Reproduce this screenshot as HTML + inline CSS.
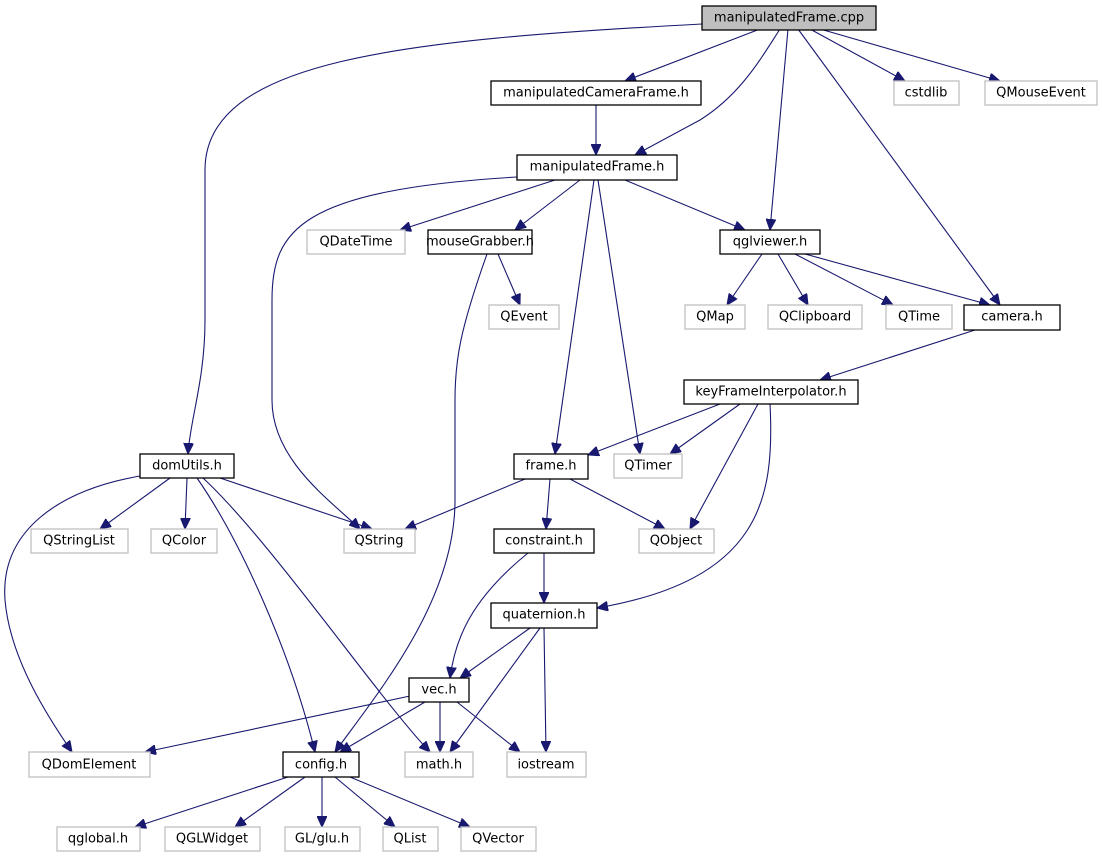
<!DOCTYPE html>
<html><head><meta charset="utf-8"><style>
html,body{margin:0;padding:0;background:#fff;}
svg{display:block;}
text{font-family:"DejaVu Sans","Liberation Sans",sans-serif;font-size:13px;text-anchor:middle;dominant-baseline:central;fill:#000;}
.b{fill:#fff;stroke:#000;stroke-width:1.3;}
.g{fill:#fff;stroke:#bfbfbf;stroke-width:1.3;}
.e{fill:none;stroke:#191970;stroke-width:1.1;marker-end:url(#a);}
</style></head><body>
<svg width="1102" height="859" viewBox="0 0 1102 859" xmlns="http://www.w3.org/2000/svg">
<defs><marker id="a" markerUnits="userSpaceOnUse" markerWidth="12" markerHeight="10" refX="11" refY="5" orient="auto"><path d="M0,0 L11,5 L0,10 Z" fill="#191970" stroke="#191970"/></marker></defs>
<g>
<path class="e" d="M702,24 C400,40 205,60 205,170 L205,320 C205,380 190,420 188,454"/>
<path class="e" d="M760,29 L625,81"/>
<path class="e" d="M780,29 C760,60 740,95 700,120 L635,155"/>
<path class="e" d="M788,29 L770,230"/>
<path class="e" d="M798,29 L1000,305"/>
<path class="e" d="M810,29 L905,81"/>
<path class="e" d="M820,29 L1000,81"/>
<path class="e" d="M596,104 L596,155"/>
<path class="e" d="M517,177 C300,190 272,230 272,300 L272,400 C272,460 330,500 360,529"/>
<path class="e" d="M555,180 L400,230"/>
<path class="e" d="M580,180 L515,230"/>
<path class="e" d="M594,180 L555,454"/>
<path class="e" d="M598,180 L640,454"/>
<path class="e" d="M625,180 L745,230"/>
<path class="e" d="M498,254 L520,305"/>
<path class="e" d="M487,254 C460,330 455,360 455,400 L455,500 C455,600 380,690 335,752"/>
<path class="e" d="M762,254 L727,305"/>
<path class="e" d="M778,254 L808,305"/>
<path class="e" d="M795,254 L893,305"/>
<path class="e" d="M805,254 L990,305"/>
<path class="e" d="M975,330 L820,380"/>
<path class="e" d="M720,404 L588,455"/>
<path class="e" d="M740,404 L670,454"/>
<path class="e" d="M758,404 L690,529"/>
<path class="e" d="M770,404 C775,500 760,580 597,608"/>
<path class="e" d="M140,476 C60,490 0,530 5,600 C10,660 50,720 72,752"/>
<path class="e" d="M170,478 L100,529"/>
<path class="e" d="M187,478 L185,529"/>
<path class="e" d="M220,478 L372,529"/>
<path class="e" d="M197,478 C240,540 290,650 315,752"/>
<path class="e" d="M203,478 C270,540 380,700 430,752"/>
<path class="e" d="M525,479 L405,529"/>
<path class="e" d="M550,479 L546,529"/>
<path class="e" d="M570,479 L665,529"/>
<path class="e" d="M544,553 L544,603"/>
<path class="e" d="M528,553 C470,600 455,640 450,678"/>
<path class="e" d="M530,628 L460,678"/>
<path class="e" d="M540,628 L450,752"/>
<path class="e" d="M544,628 L546,752"/>
<path class="e" d="M410,696 L145,752"/>
<path class="e" d="M425,702 L340,752"/>
<path class="e" d="M440,702 L440,752"/>
<path class="e" d="M457,702 L520,752"/>
<path class="e" d="M288,777 L135,827"/>
<path class="e" d="M305,777 L235,827"/>
<path class="e" d="M322,777 L322,827"/>
<path class="e" d="M335,777 L395,827"/>
<path class="e" d="M350,777 L470,827"/>
</g>
<g>
<rect x="702" y="6" width="174" height="24" fill="#bfbfbf" stroke="#000" stroke-width="1.3"/><text x="789" y="18">manipulatedFrame.cpp</text>
<rect class="b" x="491" y="81" width="210" height="24"/><text x="596" y="93">manipulatedCameraFrame.h</text>
<rect class="g" x="894" y="81" width="65" height="24"/><text x="926" y="93">cstdlib</text>
<rect class="g" x="985" y="81" width="112" height="24"/><text x="1041" y="93">QMouseEvent</text>
<rect class="b" x="517" y="155" width="160" height="25"/><text x="597" y="167">manipulatedFrame.h</text>
<rect class="g" x="307" y="230" width="98" height="24"/><text x="356" y="242">QDateTime</text>
<rect class="b" x="428" y="230" width="104" height="24"/><text x="480" y="242">mouseGrabber.h</text>
<rect class="b" x="720" y="230" width="100" height="24"/><text x="770" y="242">qglviewer.h</text>
<rect class="g" x="489" y="305" width="70" height="24"/><text x="524" y="317">QEvent</text>
<rect class="g" x="685" y="305" width="60" height="24"/><text x="715" y="317">QMap</text>
<rect class="g" x="768" y="305" width="94" height="24"/><text x="815" y="317">QClipboard</text>
<rect class="g" x="886" y="305" width="66" height="24"/><text x="919" y="317">QTime</text>
<rect class="b" x="964" y="305" width="96" height="25"/><text x="1012" y="317">camera.h</text>
<rect class="b" x="684" y="380" width="174" height="24"/><text x="771" y="392">keyFrameInterpolator.h</text>
<rect class="b" x="140" y="454" width="94" height="24"/><text x="187" y="466">domUtils.h</text>
<rect class="b" x="514" y="454" width="74" height="25"/><text x="551" y="466">frame.h</text>
<rect class="g" x="614" y="454" width="68" height="24"/><text x="648" y="466">QTimer</text>
<rect class="g" x="31" y="529" width="97" height="24"/><text x="79" y="541">QStringList</text>
<rect class="g" x="151" y="529" width="66" height="24"/><text x="184" y="541">QColor</text>
<rect class="g" x="344" y="529" width="71" height="24"/><text x="379" y="541">QString</text>
<rect class="b" x="494" y="529" width="100" height="24"/><text x="544" y="541">constraint.h</text>
<rect class="g" x="639" y="529" width="75" height="24"/><text x="676" y="541">QObject</text>
<rect class="b" x="491" y="603" width="106" height="25"/><text x="544" y="615">quaternion.h</text>
<rect class="b" x="409" y="678" width="60" height="24"/><text x="439" y="690">vec.h</text>
<rect class="g" x="29" y="752" width="121" height="25"/><text x="89" y="765">QDomElement</text>
<rect class="b" x="283" y="752" width="76" height="25"/><text x="321" y="765">config.h</text>
<rect class="g" x="405" y="752" width="68" height="25"/><text x="439" y="765">math.h</text>
<rect class="g" x="507" y="752" width="79" height="25"/><text x="546" y="765">iostream</text>
<rect class="g" x="57" y="827" width="83" height="24"/><text x="98" y="839">qglobal.h</text>
<rect class="g" x="165" y="827" width="95" height="24"/><text x="212" y="839">QGLWidget</text>
<rect class="g" x="285" y="827" width="75" height="24"/><text x="322" y="839">GL/glu.h</text>
<rect class="g" x="383" y="827" width="55" height="24"/><text x="410" y="839">QList</text>
<rect class="g" x="461" y="827" width="75" height="24"/><text x="498" y="839">QVector</text>
</g>
</svg>
</body></html>
